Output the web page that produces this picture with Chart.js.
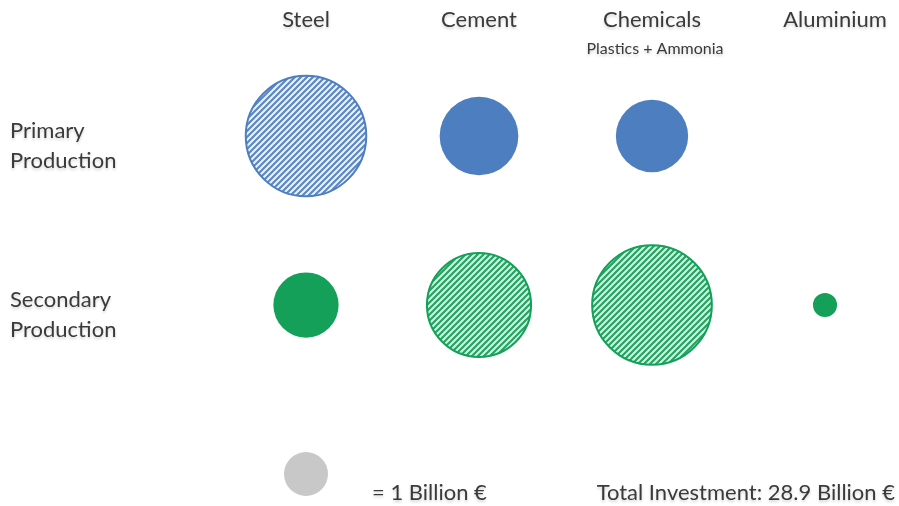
<!DOCTYPE html>
<html>
<head>
<meta charset="utf-8">
<script src="https://cdn.jsdelivr.net/npm/chart.js@4.4.0/dist/chart.umd.min.js"></script>
<style>
    html, body { margin: 0; padding: 0; background: #fff; }
    #wrap { width: 899px; height: 506px; position: relative; }
</style>
</head>
<body>
<div id="wrap"><canvas id="bubbleChart"></canvas></div>
<script>
// values in billion €, bubble area is proportional to the value
const categories = ['Steel', 'Cement', 'Chemicals', 'Aluminium'];
const rows = ['Primary Production', 'Secondary Production', 'Legend'];
const primaryValues = [7.5, 3.2, 2.7, null];
const secondaryValues = [2.2, 5.6, 7.4, 0.3];
const primaryHatched = [true, false, false, false];
const secondaryHatched = [false, true, true, false];
const legendValue = 1;
const totalInvestment = 28.9;
const subtitles = { Chemicals: 'Plastics + Ammonia' };

const UNIT_RADIUS = 22; // px radius of a 1 billion € bubble
const FONT = "Lato, 'Open Sans', sans-serif";
const TEXT_COLOR = '#3a3a3a';

function makeHatch(stripe, gap) {
    const size = 6;
    const tile = document.createElement('canvas');
    tile.width = size;
    tile.height = size;
    const c = tile.getContext('2d');
    c.fillStyle = gap;
    c.fillRect(0, 0, size, size);
    c.strokeStyle = stripe;
    c.lineWidth = 2.2;
    c.beginPath();
    c.moveTo(-1, size + 1); c.lineTo(size + 1, -1);
    c.moveTo(-1, 1); c.lineTo(1, -1);
    c.moveTo(size - 1, size + 1); c.lineTo(size + 1, size - 1);
    c.stroke();
    return tile;
}

const canvas = document.getElementById('bubbleChart');
const ctx = canvas.getContext('2d');
const blue = '#4d7ebf';
const green = '#14a058';
const blueHatch = ctx.createPattern(makeHatch('#5a88c6', '#eef3fb'), 'repeat');
const greenHatch = ctx.createPattern(makeHatch('#23a462', '#d2f4e0'), 'repeat');

// y is the row index (0 = primary, 1 = secondary, 2 = size legend)
function toPoints(values, rowIndex) {
    return values
        .map((v, i) => (v == null ? null : { x: categories[i], y: rowIndex, v: v }))
        .filter((p) => p);
}

const radiusOf = (c) => UNIT_RADIUS * Math.sqrt(c.raw.v);

const labelsPlugin = {
    id: 'labels',
    afterDraw(chart) {
        const g = chart.ctx;
        const xs = chart.scales.x;
        const ys = chart.scales.y;
        g.save();
        g.fillStyle = TEXT_COLOR;
        g.shadowColor = 'rgba(0,0,0,0.18)';
        g.shadowBlur = 3;
        g.shadowOffsetY = 2;
        g.textBaseline = 'middle';

        // column headers
        g.textAlign = 'center';
        categories.forEach((cat, i) => {
            const x = xs.getPixelForValue(i) + (cat === 'Aluminium' ? 10 : 0);
            g.font = `22px ${FONT}`;
            g.fillText(cat, x, 20);
            if (subtitles[cat]) {
                g.font = `16px ${FONT}`;
                g.fillText(subtitles[cat], x + 3, 49);
            }
        });

        // row headers
        g.textAlign = 'left';
        g.font = `22px ${FONT}`;
        rows.slice(0, 2).forEach((row, i) => {
            const y = ys.getPixelForValue(i);
            const parts = row.split(' ');
            g.fillText(parts[0], 10, y - 5);
            g.fillText(parts[1], 10, y + 25);
        });

        // legend texts
        const ly = ys.getPixelForValue(2) + 19;
        g.fillText(`= ${legendValue} Billion €`, xs.getPixelForValue(0) + 66, ly);
        g.textAlign = 'right';
        g.fillText(`Total Investment: ${totalInvestment} Billion €`, chart.width - 4, ly);
        g.restore();
    }
};

new Chart(canvas, {
    type: 'bubble',
    data: {
        datasets: [
            {
                label: rows[0],
                data: toPoints(primaryValues, 0),
                radius: radiusOf,
                backgroundColor: (c) => (primaryHatched[categories.indexOf(c.raw.x)] ? blueHatch : blue),
                borderColor: blue,
                borderWidth: (c) => (primaryHatched[categories.indexOf(c.raw.x)] ? 2 : 0),
                clip: false
            },
            {
                label: rows[1],
                data: toPoints(secondaryValues, 1),
                radius: radiusOf,
                backgroundColor: (c) => (secondaryHatched[categories.indexOf(c.raw.x)] ? greenHatch : green),
                borderColor: green,
                borderWidth: (c) => (secondaryHatched[categories.indexOf(c.raw.x)] ? 2 : 0),
                clip: false
            },
            {
                label: rows[2],
                data: [{ x: categories[0], y: 2, v: legendValue }],
                radius: radiusOf,
                backgroundColor: '#c8c8c8',
                // invisible border only widens the in-area margin so the key below the plot is drawn
                borderColor: 'rgba(0,0,0,0)',
                borderWidth: 28,
                clip: false
            }
        ]
    },
    options: {
        responsive: true,
        maintainAspectRatio: false,
        animation: false,
        events: [],
        layout: { padding: { left: 306, right: 74, top: 136, bottom: 70 } },
        plugins: { legend: { display: false }, tooltip: { enabled: false } },
        scales: {
            x: { type: 'category', labels: categories, offset: false, display: false },
            // rows are 169px apart: 300px plot height / 169 = 1.775 rows
            y: { type: 'linear', min: 0, max: 1.775, reverse: true, display: false }
        }
    },
    plugins: [labelsPlugin]
});
</script>
</body>
</html>
